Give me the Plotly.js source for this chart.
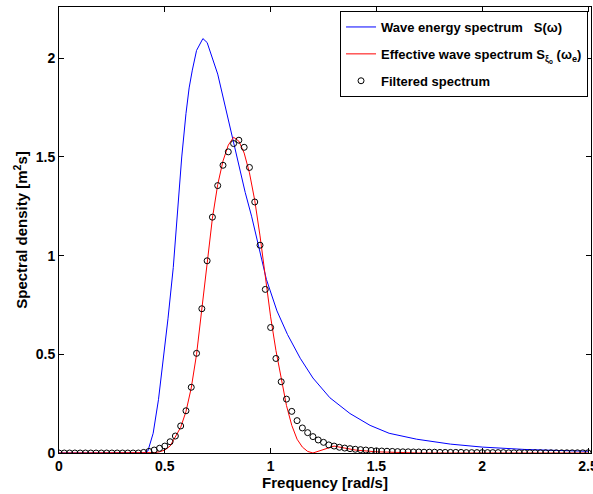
<!DOCTYPE html>
<html>
<head>
<meta charset="utf-8">
<script src="https://cdn.plot.ly/plotly-3.0.1.min.js"></script>
<style>html,body{margin:0;padding:0;background:#fff;}#chart{width:593px;height:494px;}</style>
</head>
<body>
<div id="chart"></div>
<script>
// Wave energy spectrum S(w)
var waveFreq = [0, 0.40, 0.42, 0.445, 0.47, 0.49, 0.515, 0.54, 0.56, 0.58, 0.60, 0.615, 0.63, 0.65, 0.68, 0.70, 0.75, 0.80, 0.84, 0.88, 0.91, 0.94, 0.98, 1.03, 1.08, 1.14, 1.20, 1.28, 1.375, 1.47, 1.56, 1.69, 1.85, 2.0, 2.2, 2.35, 2.5];
var waveS    = [0, 0, 0.01, 0.10, 0.27, 0.44, 0.68, 0.94, 1.23, 1.50, 1.72, 1.85, 1.94, 2.04, 2.10, 2.08, 1.92, 1.69, 1.50, 1.32, 1.20, 1.06, 0.88, 0.72, 0.60, 0.48, 0.38, 0.28, 0.20, 0.14, 0.10, 0.07, 0.045, 0.03, 0.018, 0.013, 0.009];

// Effective wave spectrum
var effFreq = [0, 0.40, 0.425, 0.45, 0.475, 0.50, 0.525, 0.55, 0.575, 0.60, 0.625, 0.65, 0.675, 0.70, 0.725, 0.75, 0.775, 0.80, 0.825, 0.85, 0.875, 0.90, 0.925, 0.95, 0.975, 1.0, 1.025, 1.05, 1.075, 1.10, 1.125, 1.15, 1.175, 1.20, 1.30, 1.35, 1.40, 1.50, 1.60, 1.70, 2.5];
var effS    = [0, 0, 0, 0.002, 0.006, 0.015, 0.035, 0.08, 0.13, 0.21, 0.33, 0.50, 0.72, 0.97, 1.19, 1.36, 1.48, 1.56, 1.60, 1.58, 1.52, 1.42, 1.28, 1.10, 0.90, 0.69, 0.52, 0.37, 0.24, 0.14, 0.07, 0.03, 0.008, 0, 0.035, 0.025, 0.015, 0.006, 0.002, 0, 0];

// Filtered spectrum (circles)
var filtFreq = [0, 0.025, 0.05, 0.075, 0.1, 0.125, 0.15, 0.175, 0.2, 0.225, 0.25, 0.275, 0.3, 0.325, 0.35, 0.375,
  0.4, 0.425, 0.45, 0.475, 0.5, 0.525, 0.55, 0.575, 0.6, 0.625, 0.65, 0.675, 0.7, 0.725, 0.75, 0.775, 0.8, 0.825, 0.85, 0.875,
  0.9, 0.925, 0.95, 0.975, 1.0, 1.025, 1.05, 1.075, 1.1, 1.125, 1.15, 1.175, 1.2, 1.225, 1.25, 1.275, 1.3, 1.325, 1.35, 1.375,
  1.4, 1.425, 1.45, 1.475, 1.5, 1.525, 1.55, 1.575, 1.6, 1.625, 1.65, 1.675, 1.7, 1.725, 1.75, 1.775, 1.8, 1.825, 1.85, 1.875,
  1.9, 1.925, 1.95, 1.975, 2.0, 2.025, 2.05, 2.075, 2.1, 2.125, 2.15, 2.175, 2.2, 2.225, 2.25, 2.275, 2.3, 2.325, 2.35, 2.375,
  2.4, 2.425, 2.45, 2.475, 2.5];
var filtS = [0, 0, 0, 0, 0, 0, 0, 0, 0, 0, 0, 0, 0, 0, 0, 0,
  0.003, 0.008, 0.015, 0.024, 0.035, 0.057, 0.086, 0.137, 0.214, 0.333, 0.505, 0.731, 0.974, 1.195, 1.355, 1.458, 1.526, 1.568, 1.585, 1.549,
  1.447, 1.272, 1.053, 0.829, 0.636, 0.479, 0.361, 0.273, 0.211, 0.164, 0.127, 0.103, 0.083, 0.066, 0.054, 0.041, 0.035, 0.029, 0.025, 0.022,
  0.019, 0.017, 0.015, 0.013, 0.011, 0.010, 0.009, 0.008, 0.007, 0.006, 0.006, 0.005, 0.005, 0.004, 0.004, 0.004, 0.003, 0.003, 0.003, 0.003,
  0.003, 0.002, 0.002, 0.002, 0.002, 0.002, 0.002, 0.002, 0.002, 0.001, 0.001, 0.001, 0.001, 0.001, 0.001, 0.001, 0.001, 0.001, 0.001, 0.001,
  0.001, 0.001, 0.001, 0.001, 0.001];

var xTicks = [0, 0.5, 1, 1.5, 2, 2.5];
var xTickText = ['0', '0.5', '1', '1.5', '2', '2.5'];
var yTicks = [0, 0.5, 1, 1.5, 2];
var yTickText = ['0', '0.5', '1', '1.5', '2'];

var FONT = 'Liberation Sans, Arial, sans-serif';

var traces = [
  {x: waveFreq, y: waveS, type: 'scatter', mode: 'lines', name: 'Wave energy spectrum   S(ω)',
   legendgroup: 'a', line: {color: '#0000ff', width: 1}},
  {x: effFreq, y: effS, type: 'scatter', mode: 'lines', name: 'Effective wave spectrum S<sub>ξ<sub>o</sub></sub> (ω<sub>e</sub>)',
   legendgroup: 'b', line: {color: '#ff0000', width: 1}},
  {x: filtFreq, y: filtS, type: 'scatter', mode: 'markers', name: 'Filtered spectrum',
   legendgroup: 'c', marker: {symbol: 'circle-open', size: 6, color: '#000000', line: {width: 1, color: '#000000'}}}
];

var layout = {
  width: 593, height: 494,
  margin: {l: 59, r: 2, t: 7, b: 41, pad: 0},
  paper_bgcolor: '#ffffff', plot_bgcolor: '#ffffff',
  font: {family: FONT, color: '#000000'},
  showlegend: true,
  legend: {x: 0.9944, xanchor: 'right', y: 0.991, yanchor: 'top',
    bgcolor: '#ffffff', bordercolor: '#000000', borderwidth: 1,
    font: {family: FONT, size: 13, color: '#000000', weight: 'bold'},
    tracegroupgap: 7},
  xaxis: {range: [0, 2.514], tickvals: xTicks, ticktext: xTickText,
    ticks: 'inside', ticklen: 5, tickcolor: '#000', tickwidth: 1,
    showline: true, linecolor: '#000', linewidth: 1, mirror: 'ticks',
    showgrid: false, zeroline: false, automargin: false, ticklabeloverflow: 'allow',
    tickfont: {family: FONT, size: 14, weight: 'bold', color: '#000'},
    title: {text: 'Frequency [rad/s]', font: {family: FONT, size: 15, weight: 'bold', color: '#000'}, standoff: 2}},
  yaxis: {range: [0, 2.26], tickvals: yTicks, ticktext: yTickText,
    ticks: 'inside', ticklen: 5, tickcolor: '#000', tickwidth: 1,
    showline: true, linecolor: '#000', linewidth: 1, mirror: 'ticks',
    showgrid: false, zeroline: false, automargin: false,
    tickfont: {family: FONT, size: 14, weight: 'bold', color: '#000'},
    title: {text: 'Spectral density [m<sup>2</sup>s]', font: {family: FONT, size: 15, weight: 'bold', color: '#000'}, standoff: 4}}
};

Plotly.newPlot('chart', traces, layout, {displayModeBar: false, responsive: false});
</script>
</body>
</html>
